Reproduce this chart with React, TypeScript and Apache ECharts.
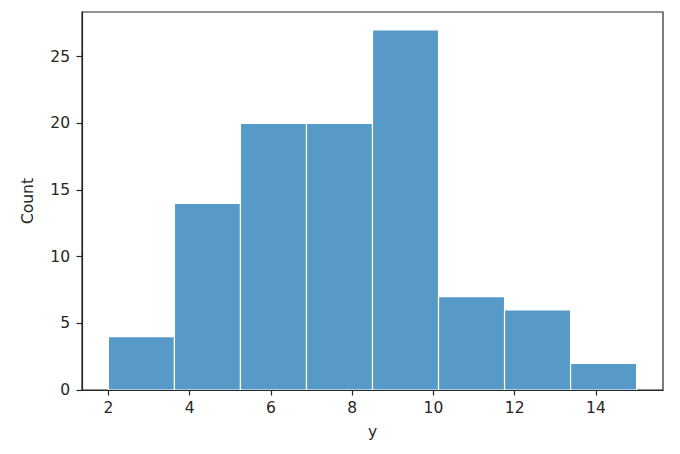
import React, { useEffect, useRef } from "react";
import * as echarts from "echarts";

const binEdges = [2.0, 3.625, 5.25, 6.875, 8.5, 10.125, 11.75, 13.375, 15.0];
const counts = [4, 14, 20, 20, 27, 7, 6, 2];
const xTicks = [2, 4, 6, 8, 10, 12, 14];
const yTicks = [0, 5, 10, 15, 20, 25];

export default function App() {
  const ref = useRef<HTMLDivElement>(null);
  useEffect(() => {
    const chart = echarts.init(ref.current!, null, { renderer: "svg" });
    const data = counts.map((c, i) => [binEdges[i], binEdges[i + 1], c]);
    const font = "DejaVu Sans";
    const fs = 15.5;
    const txt = "#262626";
    const ax = "#262626";
    chart.setOption({
      animation: false,
      grid: {
        left: 82,
        right: 17,
        top: 12,
        bottom: 64,
        show: true,
        borderColor: ax,
        borderWidth: 1.2,
        backgroundColor: "#fff",
      },
      xAxis: {
        type: "value",
        z: 5,
        min: 1.35,
        max: 15.65,
        name: "y",
        nameLocation: "middle",
        nameGap: 34,
        nameTextStyle: { fontFamily: font, fontSize: fs, color: txt },
        axisLine: { show: true, onZero: false, lineStyle: { color: ax, width: 1.2 } },
        axisTick: { show: true, length: 5.5, customValues: xTicks, lineStyle: { color: ax, width: 1.2 } },
        axisLabel: { customValues: xTicks, fontFamily: font, fontSize: fs, color: txt, margin: 10 },
        splitLine: { show: false },
      },
      yAxis: {
        type: "value",
        z: 5,
        min: 0,
        max: 28.35,
        name: "Count",
        nameLocation: "middle",
        nameGap: 46,
        nameTextStyle: { fontFamily: font, fontSize: fs, color: txt },
        axisLine: { show: true, lineStyle: { color: ax, width: 1.2 } },
        axisTick: { show: true, length: 5.5, customValues: yTicks, lineStyle: { color: ax, width: 1.2 } },
        axisLabel: { customValues: yTicks, fontFamily: font, fontSize: fs, color: txt, margin: 12 },
        splitLine: { show: false },
      },
      series: [
        {
          type: "custom",
          data,
          renderItem: (params: any, api: any) => {
            const p0 = api.coord([api.value(0), 0]);
            const p1 = api.coord([api.value(1), api.value(2)]);
            return {
              type: "rect",
              shape: { x: p0[0], y: p1[1], width: p1[0] - p0[0], height: p0[1] - p1[1] },
              style: { fill: "rgb(87,153,199)", stroke: "#fff", lineWidth: 1.2 },
            };
          },
          encode: { x: [0, 1], y: 2 },
        },
      ],
    });
    return () => chart.dispose();
  }, []);
  return <div ref={ref} style={{ width: 680, height: 454, position: "absolute", left: 0, top: 0 }} />;
}
